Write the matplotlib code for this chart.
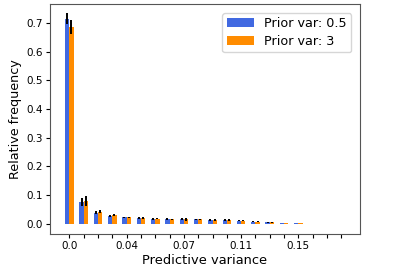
import matplotlib
matplotlib.use("Agg")
import matplotlib.pyplot as plt
import numpy as np

# histogram of predictive variance, 20 bins
tick_labels = ["0.0", "", "", "", "0.04", "", "", "", "0.07", "", "", "",
               "0.11", "", "", "", "0.15", "", "", ""]

freq_small = [0.715, 0.076, 0.039, 0.028, 0.022, 0.019, 0.017, 0.016, 0.016, 0.015,
              0.014, 0.013, 0.010, 0.007, 0.005, 0.002, 0.001, 0.0, 0.0, 0.0]
freq_large = [0.687, 0.079, 0.042, 0.030, 0.022, 0.020, 0.018, 0.016, 0.015, 0.015,
              0.014, 0.013, 0.010, 0.007, 0.005, 0.002, 0.001, 0.0, 0.0, 0.0]
err_small = [0.019, 0.015, 0.004, 0.003, 0.003, 0.004, 0.003, 0.003, 0.003, 0.003,
             0.003, 0.003, 0.002, 0.002, 0.002, 0.001, 0.0, 0.0, 0.0, 0.0]
err_large = [0.023, 0.016, 0.005, 0.004, 0.003, 0.004, 0.003, 0.002, 0.004, 0.003,
             0.003, 0.003, 0.002, 0.002, 0.002, 0.001, 0.0, 0.0, 0.0, 0.0]

labels = ["Prior var: 0.5", "Prior var: 3"]

fig = plt.figure(figsize=(3.99, 2.67), dpi=100)
ax = fig.add_axes([50 / 399, 1 - 234 / 267, 310 / 399, 230 / 267])

x = np.arange(len(tick_labels))
w = 0.3
ax.bar(x - w / 2, freq_small, w, color="royalblue", label=labels[0])
ax.bar(x + w / 2, freq_large, w, color="darkorange", label=labels[1])
ax.errorbar(x - w / 2, freq_small, yerr=err_small, fmt="none", ecolor="black", elinewidth=1.4)
ax.errorbar(x + w / 2, freq_large, yerr=err_large, fmt="none", ecolor="black", elinewidth=1.4)

ax.set_xticks(x)
ax.set_xticklabels(tick_labels, fontsize=7.5)
ax.set_yticks(np.arange(0, 0.71, 0.1))
ax.set_yticklabels([f"{v:.1f}" for v in np.arange(0, 0.71, 0.1)], fontsize=7.5)
ax.set_xlim(-1.35, 20.3)
ax.set_ylim(-0.036, 0.767)
ax.set_xlabel("Predictive variance", fontsize=9.4, labelpad=2)
ax.set_ylabel("Relative frequency", fontsize=9.2, labelpad=3)
ax.tick_params(length=3, pad=2)
for s in ax.spines.values():
    s.set_color("#555555")

ax.legend(loc="upper right", fontsize=9.2, handlelength=2.1, labelspacing=0.35,
          borderaxespad=0.7, borderpad=0.35)

fig.savefig("out.png", dpi=100)
